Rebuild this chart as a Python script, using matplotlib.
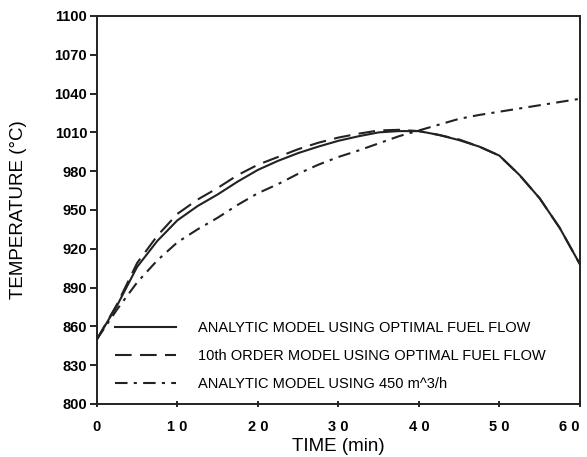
import matplotlib
matplotlib.use("Agg")
import matplotlib.pyplot as plt

plt.rcParams['font.family'] = ['Liberation Sans', 'DejaVu Sans']

# time axis (min), read every 2.5 min
time = [0, 2.5, 5, 7.5, 10, 12.5, 15, 17.5, 20, 22.5, 25, 27.5, 30,
        32.5, 35, 37.5, 40, 42.5, 45, 47.5, 50, 52.5, 55, 57.5, 60]

# analytic model, optimal fuel flow
analytic_opt = [850, 876, 906, 926, 942, 953, 962, 972, 981, 988, 994, 999, 1003.5,
                1007, 1010, 1011, 1011, 1008, 1004, 999, 992, 977, 959, 936, 908]

# 10th order model, optimal fuel flow
order10_opt = [850, 877, 909, 930, 947, 958, 967, 977, 985, 991, 997, 1002, 1006,
               1009, 1011.5, 1012, 1011, 1008, 1004.5, 999, 992, 977, 959, 936, 908]

# analytic model, constant 450 m^3/h
analytic_450 = [850, 873, 894, 911, 925, 935, 944, 954, 963, 970, 978, 985, 991,
                996, 1001.5, 1007, 1011.5, 1016, 1020.5, 1023.5, 1026, 1028.5, 1031, 1033.5, 1036]

labels = ["ANALYTIC MODEL USING OPTIMAL FUEL FLOW",
          "10th ORDER MODEL USING OPTIMAL FUEL FLOW",
          "ANALYTIC MODEL USING 450 m^3/h"]

xticks = [0, 10, 20, 30, 40, 50, 60]
xticklabels = ["0", "1 0", "2 0", "3 0", "4 0", "5 0", "6 0"]
yticks = [800, 830, 860, 890, 920, 950, 980, 1010, 1040, 1070, 1100]

fig = plt.figure(figsize=(5.87, 4.57), dpi=100)
ax = fig.add_axes([0.165, 0.116, 0.823, 0.849])

ax.plot(time, analytic_opt, color='#222222', lw=1.5, ls='-', label=labels[0])
ax.plot(time, order10_opt, color='#222222', lw=1.5, ls=(0, (8, 4)), label=labels[1])
ax.plot(time, analytic_450, color='#222222', lw=1.5, ls=(0, (6, 3, 1.5, 3)), label=labels[2])

ax.set_xlim(0, 60)
ax.set_ylim(800, 1100)
ax.set_xticks(xticks)
ax.set_xticklabels(xticklabels)
ax.set_yticks(yticks)
ax.tick_params(axis='y', direction='out', length=5, width=1.2, labelsize=10.5, pad=2)
ax.tick_params(axis='x', direction='inout', length=5, width=1.2, labelsize=10.5, pad=9)
for lab in ax.get_xticklabels() + ax.get_yticklabels():
    lab.set_fontweight('bold')
xl = ax.get_xticklabels()
xl[-1].set_horizontalalignment('right')
xl[-1].set_x(59.5)
for s in ax.spines.values():
    s.set_linewidth(1.4)
    s.set_color('#222222')

ax.set_xlabel("TIME (min)", fontsize=13.5, labelpad=3)
ax.set_ylabel("TEMPERATURE (°C)", fontsize=13.5, labelpad=20)

ax.legend(loc='upper left', bbox_to_anchor=(0.037, 0.213), frameon=False,
          fontsize=10.5, handlelength=4.2, handletextpad=1.5, labelspacing=0.95,
          borderpad=0, borderaxespad=0)

fig.savefig("out.png", dpi=100)
